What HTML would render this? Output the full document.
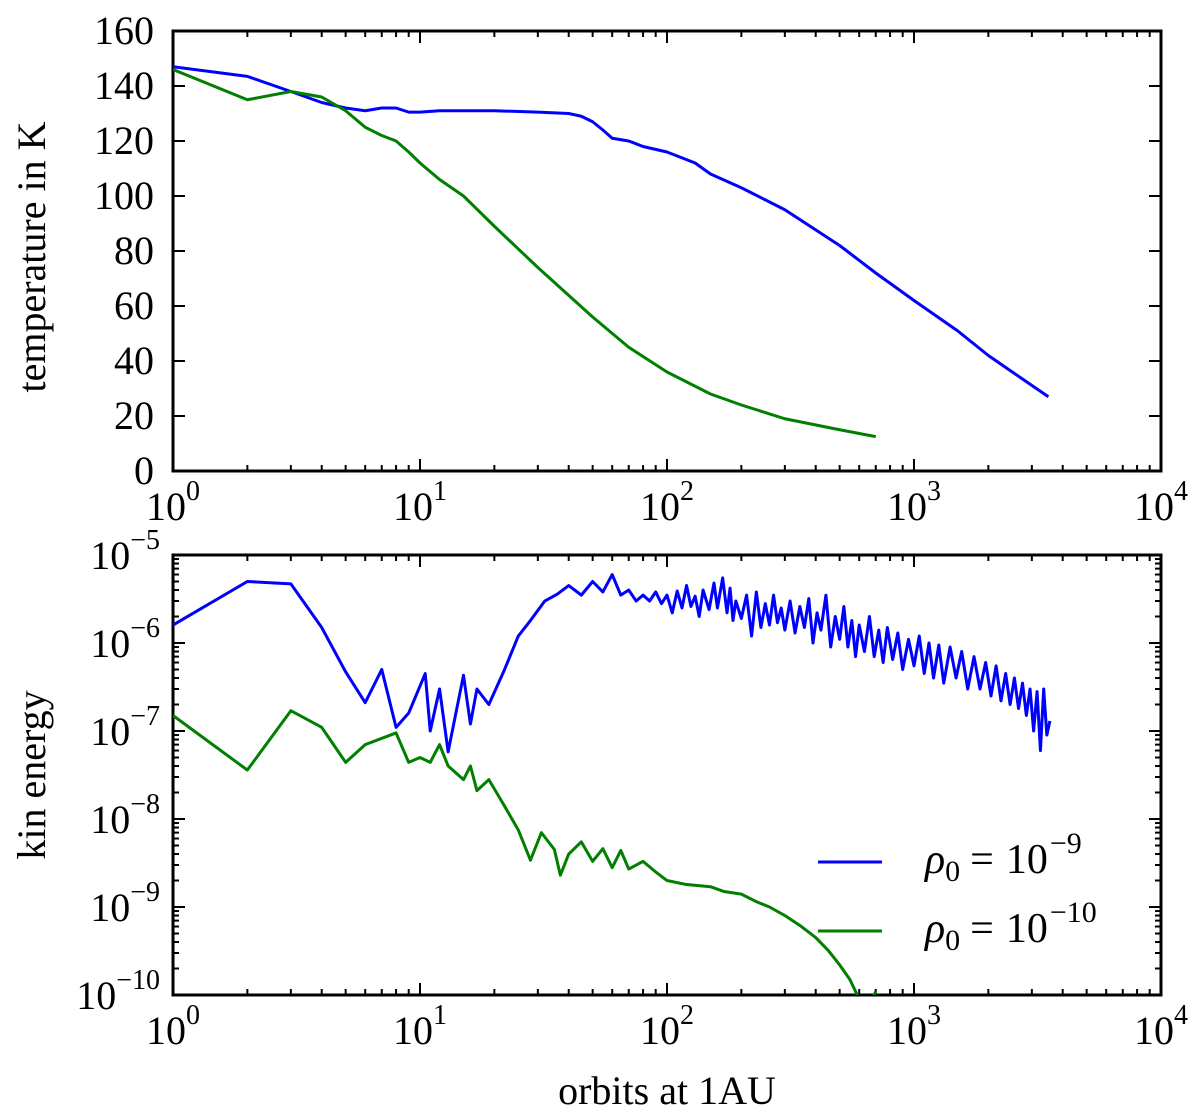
<!DOCTYPE html>
<html><head><meta charset="utf-8"><style>
body{margin:0;background:#fff}
svg text{font-family:"Liberation Serif",serif;fill:#000}
</style></head><body>
<svg id="chart" width="1200" height="1111" xmlns="http://www.w3.org/2000/svg">
<defs>
<clipPath id="clipTop"><rect x="173" y="31" width="988" height="440"/></clipPath>
<clipPath id="clipBot"><rect x="173" y="555" width="988" height="440"/></clipPath>
</defs>
<g id="topPanel"></g>
<g id="botPanel"></g>
<text x="0" y="0" font-size="40" text-anchor="middle" transform="translate(45,257) rotate(-90)">temperature in K</text>
<text x="0" y="0" font-size="40" text-anchor="middle" transform="translate(45,775) rotate(-90)">kin energy</text>
<text x="667" y="1104" font-size="40" text-anchor="middle">orbits at 1AU</text>
<g>
<line x1="818" y1="862" x2="882" y2="862" stroke="#0000ff" stroke-width="3"/>
<text x="925" y="873" font-size="42" font-style="italic">ρ<tspan font-style="normal" font-size="30" dy="8">0</tspan><tspan font-style="normal" font-size="42" dy="-8" dx="10">=</tspan><tspan font-style="normal" font-size="42" dx="12">10</tspan><tspan font-style="normal" font-size="30" dy="-20" dx="2">−9</tspan></text>
<line x1="818" y1="931" x2="882" y2="931" stroke="#007f00" stroke-width="3"/>
<text x="925" y="942" font-size="42" font-style="italic">ρ<tspan font-style="normal" font-size="30" dy="8">0</tspan><tspan font-style="normal" font-size="42" dy="-8" dx="10">=</tspan><tspan font-style="normal" font-size="42" dx="12">10</tspan><tspan font-style="normal" font-size="30" dy="-20" dx="2">−10</tspan></text>
</g>
</svg>
<script>
const tempBlueX=[1,2,3,4,5,6,7,8,9,10,12,15,20,30,40,45,50,55,60,70,80,100,130,150,200,300,500,700,1000,1500,2000,2500,3500];
const tempBlueY=[147,143.5,138,134,132,131,132,132,130.5,130.5,131,131,131,130.5,130,129,127,124,121,120,118,116,112,108,103,95,82,72,62,51,42,36,27];
const tempGreenX=[1,2,3,4,5,6,7,8,9,10,12,15,20,30,50,70,100,150,200,300,500,700];
const tempGreenY=[146,135,138,136,131,125,122,120,116,112,106,100,89,74,56,45,36,28,24,19,15,12.5];
const kinBlueX=[1,2,3,4,5,6,7,8,9,10.5,11,12,13,15,16,17,19,22,25,28,32,36,40,45,50,55,60,65,70,75,80,85,90,95,100,105,110,115,120,125,130,135,140,148,155,160,168,175,180,185,190,200,210,220,230,240,250,260,270,280,290,300,315,330,345,360,375,390,405,420,440,460,480,500,520,540,560,580,600,630,660,690,720,750,780,820,860,900,950,1000,1050,1100,1150,1200,1260,1320,1400,1480,1560,1650,1750,1850,1950,2050,2150,2250,2350,2450,2550,2650,2750,2850,2950,3050,3150,3250,3350,3450,3550];
const kinBlueY=[1.6e-6,5e-6,4.7e-6,1.5e-6,4.7e-7,2.1e-7,5e-7,1.1e-7,1.6e-7,4.5e-7,1e-7,3e-7,5.8e-8,4.3e-7,1.2e-7,3e-7,2e-7,5e-7,1.2e-6,1.8e-6,3e-6,3.6e-6,4.5e-6,3.5e-6,5e-6,3.8e-6,6e-6,3.5e-6,4e-6,3e-6,3.5e-6,3e-6,3.8e-6,2.8e-6,3.5e-6,2.2e-6,3.9e-6,2.5e-6,4.5e-6,2.6e-6,3.4e-6,2e-6,4e-6,2.4e-6,4.8e-6,2.5e-6,5.5e-6,2.2e-6,4.2e-6,1.8e-6,3e-6,1.9e-6,3.5e-6,1.2e-6,3.8e-6,1.5e-6,2.8e-6,1.6e-6,3.5e-6,1.7e-6,2.5e-6,1.4e-6,3e-6,1.3e-6,2.6e-6,1.5e-6,3.2e-6,1e-6,2.2e-6,1.4e-6,3.5e-6,9e-7,2e-6,1.1e-6,2.6e-6,9e-7,1.8e-6,7e-7,1.6e-6,8e-7,2e-6,7e-7,1.4e-6,6e-7,1.5e-6,6.5e-7,1.3e-6,5e-7,1.1e-6,5.5e-7,1.2e-6,4.5e-7,1e-6,4e-7,9.5e-7,3.5e-7,9e-7,4e-7,8e-7,3e-7,7e-7,3e-7,6e-7,2.5e-7,5.5e-7,2.2e-7,4.5e-7,2e-7,4e-7,1.8e-7,3.5e-7,1.5e-7,3e-7,1e-7,2.8e-7,6e-8,3e-7,9e-8,1.3e-7];
const kinGreenX=[1,2,3,4,5,6,8,9,10,11,12,13,15,16,17,19,22,25,28,31,35,37,40,45,50,55,60,65,70,80,90,100,120,150,170,200,230,260,300,350,400,450,500,550,600,650,700];
const kinGreenY=[1.5e-7,3.6e-8,1.7e-7,1.1e-7,4.4e-8,7e-8,9.5e-8,4.4e-8,5e-8,4.4e-8,7e-8,4e-8,2.8e-8,4e-8,2.1e-8,2.8e-8,1.4e-8,7.5e-9,3.4e-9,7e-9,4.5e-9,2.3e-9,4e-9,5.5e-9,3.3e-9,4.6e-9,2.8e-9,4.4e-9,2.7e-9,3.3e-9,2.5e-9,2e-9,1.8e-9,1.7e-9,1.5e-9,1.4e-9,1.15e-9,1e-9,8e-10,6e-10,4.5e-10,3.2e-10,2.2e-10,1.5e-10,9e-11,7e-11,1.1e-10];
const yTicksTop=[0,20,40,60,80,100,120,140,160];
const xDecades=[0,1,2,3,4];
const yDecadesBot=[-10,-9,-8,-7,-6,-5];

const NS="http://www.w3.org/2000/svg";
const L=173,R=1161;
const xs=v=>L+(Math.log10(v))/4*(R-L);
const topT=31,topB=471,botT=555,botB=995;
const yTop=v=>topB-(v/160)*(topB-topT);
const yBot=v=>botT+(-5-Math.log10(v))/5*(botB-botT);
function mk(tag,attrs,parent){const e=document.createElementNS(NS,tag);for(const k in attrs)e.setAttribute(k,attrs[k]);parent.appendChild(e);return e;}
function line(p,x1,y1,x2,y2,w){return mk('line',{x1,y1,x2,y2,stroke:'#000','stroke-width':w},p);}
function path(p,X,Y,fy,color,clip){const d=X.map((x,i)=>(i?'L':'M')+xs(x).toFixed(2)+','+fy(Y[i]).toFixed(2)).join('');return mk('path',{d,fill:'none',stroke:color,'stroke-width':3,'stroke-linejoin':'round','clip-path':'url(#'+clip+')'},p);}
function xAxis(p,T,B,name){
  xDecades.forEach(d=>{
    const x=L+d/4*(R-L);
    const t=line(p,x,B,x,B-12,2);
    
    
    line(p,x,T,x,T+12,2);
    if(d<4)for(let m=2;m<10;m++){const xm=xs(Math.pow(10,d)*m);line(p,xm,B,xm,B-6,2);line(p,xm,T,xm,T+6,2);}
    const tx=mk('text',{x:x,y:B+49,'font-size':40,'text-anchor':'middle'},p);
    
    
    tx.innerHTML='10<tspan font-size="28" dy="-20">'+d+'</tspan>';
  });
}
const topG=document.getElementById('topPanel');
mk('rect',{x:L,y:topT,width:R-L,height:topB-topT,fill:'none',stroke:'#000','stroke-width':3},topG);
yTicksTop.forEach(v=>{const y=yTop(v);line(topG,L,y,L+12,y,2);line(topG,R,y,R-12,y,2);
  const t=mk('text',{x:154,y:y+13,'font-size':40,'text-anchor':'end'},topG);t.textContent=v;
  
  });
xAxis(topG,topT,topB,'top');
let p=path(topG,tempBlueX,tempBlueY,yTop,'#0000ff','clipTop');


p=path(topG,tempGreenX,tempGreenY,yTop,'#007f00','clipTop');



const botG=document.getElementById('botPanel');
mk('rect',{x:L,y:botT,width:R-L,height:botB-botT,fill:'none',stroke:'#000','stroke-width':3},botG);
yDecadesBot.forEach(d=>{const y=yBot(Math.pow(10,d));line(botG,L,y,L+12,y,2);line(botG,R,y,R-12,y,2);
  if(d<-5)for(let m=2;m<10;m++){const ym=yBot(m*Math.pow(10,d));line(botG,L,ym,L+6,ym,2);line(botG,R,ym,R-6,ym,2);}
  const t=mk('text',{x:160,y:y+14,'font-size':40,'text-anchor':'end'},botG);
  
  
  t.innerHTML='10<tspan font-size="28" dy="-20">−'+(-d)+'</tspan>';});
xAxis(botG,botT,botB,'bottom');
p=path(botG,kinBlueX,kinBlueY,yBot,'#0000ff','clipBot');


p=path(botG,kinGreenX,kinGreenY,yBot,'#007f00','clipBot');


</script>
</body></html>
